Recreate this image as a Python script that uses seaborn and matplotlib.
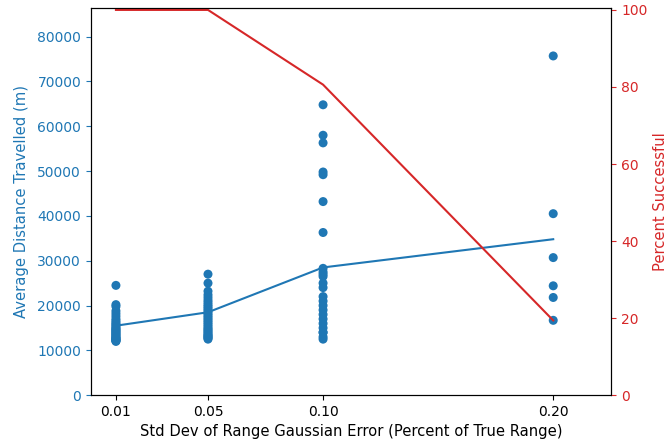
import numpy as np
import pandas as pd
import seaborn as sns
import matplotlib
matplotlib.use("Agg")
from matplotlib import pyplot as plt

# std dev levels (fraction of true range)
levels = [0.01, 0.05, 0.10, 0.20]
tick_labels = ["0.01", "0.05", "0.10", "0.20"]

# distance travelled per successful run (m)
dist_001 = [24500, 20200, 19800, 18800, 18200, 17600, 17000, 16600, 16200, 15900,
            15600, 15300, 15000, 14800, 14600, 14400, 14200, 14000, 13800, 13600,
            13400, 13200, 13000, 12800, 12700, 12600, 12400, 12300, 12200, 12100, 12000]
dist_005 = [27000, 25000, 23200, 22400, 21800, 21200, 20700, 20200, 19800, 19400,
            19000, 18600, 18200, 17800, 17400, 17000, 16600, 16200, 15800, 15400,
            15000, 14700, 14400, 14100, 13800, 13500, 13300, 13100, 12900, 12700, 12500]
dist_010 = [64800, 58000, 56300, 49800, 49200, 43200, 36300, 28300, 27500, 27000,
            26500, 25000, 24000, 22000, 21000, 20000, 19000, 18000, 17000, 16000,
            15000, 14000, 14000, 13000, 12500]
dist_020 = [75700, 40500, 30700, 24400, 21800, 16700]

mean_dist = [15500, 18500, 28500, 34800]
pct_success = [100, 100, 80.6, 19.4]

blue = "#1f77b4"
red = "#d62728"

rows = []
for lv, vals in zip(levels, [dist_001, dist_005, dist_010, dist_020]):
    for v in vals:
        rows.append({"std": lv, "dist": v})
df = pd.DataFrame(rows)
summary = pd.DataFrame({"std": levels, "mean": mean_dist, "pct": pct_success})

fig = plt.figure(figsize=(6.68, 4.44), dpi=100)
ax = fig.add_axes([0.136, 0.110, 0.779, 0.872])

sns.scatterplot(data=df, x="std", y="dist", ax=ax, color=blue, s=42,
                linewidth=0, edgecolor="none", zorder=3)
sns.lineplot(data=summary, x="std", y="mean", ax=ax, color=blue, linewidth=1.5)

ax.set_xlim(-0.0009, 0.2252)
ax.set_ylim(0, 86400)
ax.set_xticks(levels)
ax.set_xticklabels(tick_labels)
ax.set_xlabel("Std Dev of Range Gaussian Error (Percent of True Range)", fontsize=10.6)
ax.set_ylabel("Average Distance Travelled (m)", color=blue, fontsize=10.6, labelpad=6)
ax.tick_params(axis="y", colors=blue)
ax.tick_params(labelsize=10)

ax2 = ax.twinx()
sns.lineplot(data=summary, x="std", y="pct", ax=ax2, color=red, linewidth=1.5)
ax2.set_ylim(0, 100.5)
ax2.set_ylabel("Percent Successful", color=red, fontsize=10.6)
ax2.tick_params(axis="y", colors=red, labelsize=10)

fig.savefig("out.png", dpi=100)
